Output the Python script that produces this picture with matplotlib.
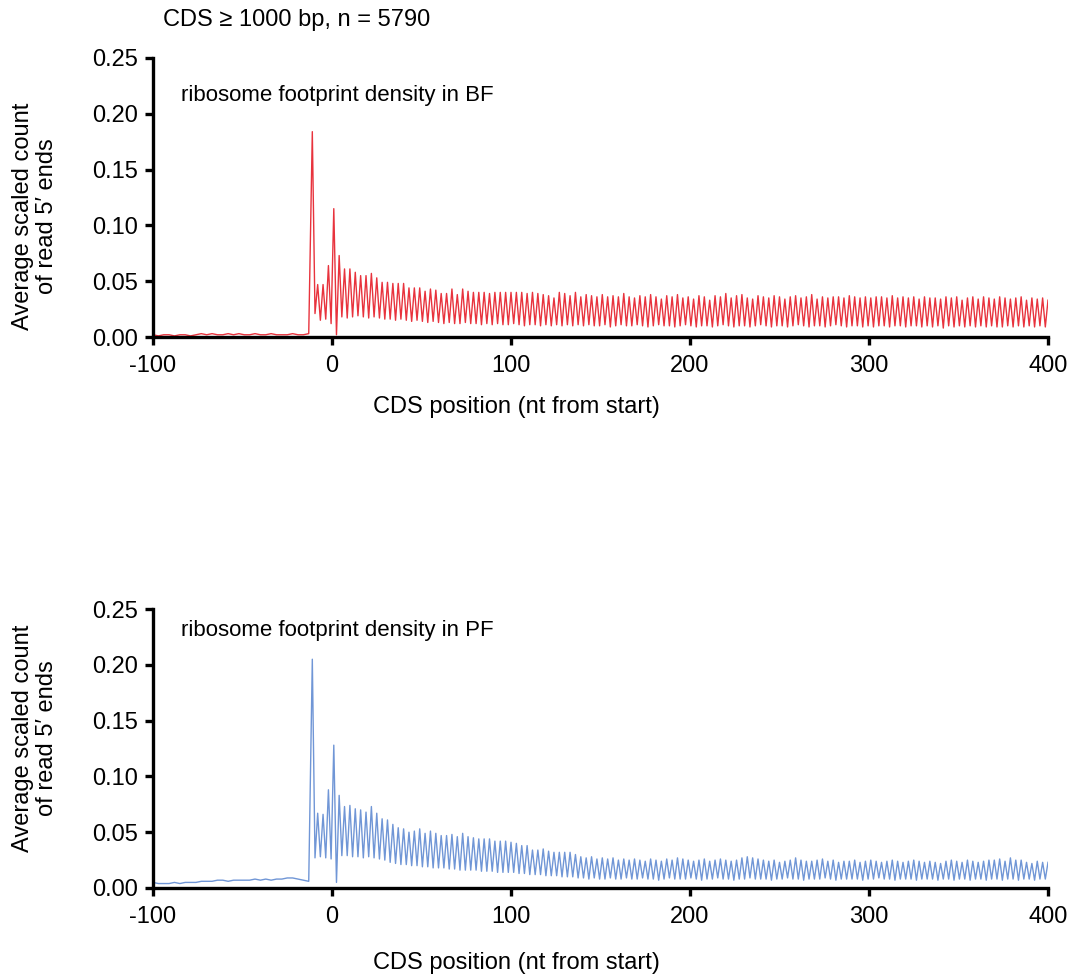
import numpy as np
import matplotlib
matplotlib.use("Agg")
import matplotlib.pyplot as plt

plt.rcParams['font.family'] = ['Liberation Sans', 'DejaVu Sans']

# ---------------- data ----------------
TITLE = "CDS \u2265 1000 bp, n = 5790"
XLABEL = "CDS position (nt from start)"
YLABEL = "Average scaled count\nof read 5\u2032 ends"
PANEL_TITLES = ["ribosome footprint density in BF", "ribosome footprint density in PF"]
X_TICKS = [-100, 0, 100, 200, 300, 400]
Y_TICKS = [0.00, 0.05, 0.10, 0.15, 0.20, 0.25]

# upstream (5' UTR) values, every 3 nt from -100 to -13
BF_UP = [0.002, 0.001, 0.002, 0.002, 0.001, 0.002, 0.002, 0.001, 0.002, 0.003,
         0.002, 0.003, 0.002, 0.002, 0.003, 0.002, 0.003, 0.002, 0.002, 0.003,
         0.002, 0.002, 0.003, 0.002, 0.002, 0.002, 0.003, 0.002, 0.002, 0.003]
PF_UP = [0.005, 0.004, 0.004, 0.004, 0.005, 0.004, 0.005, 0.005, 0.005, 0.006,
         0.006, 0.006, 0.007, 0.007, 0.006, 0.007, 0.007, 0.007, 0.007, 0.008,
         0.007, 0.008, 0.007, 0.008, 0.008, 0.009, 0.009, 0.008, 0.007, 0.006]

# codon peaks (positions -11, -8, ..., 400)
BF_PEAK = [0.184, 0.047, 0.047, 0.064, 0.115, 0.073, 0.061, 0.061, 0.058, 0.055,
           0.055, 0.057, 0.053, 0.049, 0.049, 0.048, 0.048, 0.048, 0.044, 0.044,
           0.044, 0.041, 0.043, 0.042, 0.039, 0.039, 0.043, 0.038, 0.043, 0.041,
           0.040, 0.040, 0.040, 0.039, 0.040, 0.040, 0.040, 0.040, 0.040, 0.040,
           0.039, 0.040, 0.039, 0.038, 0.037, 0.035, 0.040, 0.039, 0.037, 0.040,
           0.036, 0.038, 0.037, 0.036, 0.038, 0.036, 0.037, 0.036, 0.039, 0.036,
           0.035, 0.037, 0.036, 0.038, 0.036, 0.034, 0.037, 0.036, 0.038, 0.035,
           0.036, 0.034, 0.037, 0.036, 0.033, 0.037, 0.036, 0.039, 0.035, 0.037,
           0.038, 0.035, 0.034, 0.037, 0.036, 0.035, 0.037, 0.036, 0.034, 0.036,
           0.037, 0.035, 0.036, 0.038, 0.034, 0.036, 0.035, 0.036, 0.036, 0.035,
           0.037, 0.036, 0.035, 0.036, 0.035, 0.036, 0.036, 0.035, 0.037, 0.035,
           0.036, 0.035, 0.036, 0.034, 0.036, 0.035, 0.035, 0.034, 0.036, 0.035,
           0.036, 0.033, 0.035, 0.036, 0.034, 0.036, 0.035, 0.034, 0.036, 0.035,
           0.034, 0.035, 0.036, 0.033, 0.035, 0.034, 0.035, 0.033]
# codon troughs (positions -9.5, -6.5, ..., 398.5)
BF_TROUGH = [0.021, 0.015, 0.016, 0.012, 0.002, 0.018, 0.017, 0.018, 0.019, 0.018,
             0.017, 0.018, 0.017, 0.016, 0.016, 0.015, 0.016, 0.015, 0.014, 0.015,
             0.014, 0.013, 0.014, 0.013, 0.012, 0.013, 0.012, 0.012, 0.013, 0.012,
             0.012, 0.011, 0.012, 0.011, 0.012, 0.011, 0.011, 0.012, 0.011, 0.010,
             0.011, 0.011, 0.010, 0.011, 0.010, 0.011, 0.010, 0.011, 0.010, 0.011,
             0.010, 0.011, 0.010, 0.010, 0.011, 0.009, 0.010, 0.011, 0.010, 0.010,
             0.011, 0.010, 0.009, 0.010, 0.011, 0.010, 0.010, 0.009, 0.010, 0.011,
             0.010, 0.009, 0.010, 0.010, 0.009, 0.010, 0.011, 0.010, 0.009, 0.010,
             0.010, 0.009, 0.010, 0.011, 0.010, 0.009, 0.010, 0.010, 0.009, 0.010,
             0.011, 0.010, 0.009, 0.010, 0.010, 0.009, 0.010, 0.011, 0.010, 0.009,
             0.010, 0.010, 0.009, 0.010, 0.009, 0.010, 0.010, 0.009, 0.010, 0.010,
             0.009, 0.010, 0.010, 0.009, 0.010, 0.009, 0.010, 0.008, 0.010, 0.009,
             0.010, 0.009, 0.010, 0.009, 0.010, 0.009, 0.010, 0.009, 0.009, 0.010,
             0.009, 0.010, 0.009, 0.010, 0.009, 0.010, 0.009]

PF_PEAK = [0.205, 0.067, 0.066, 0.088, 0.128, 0.083, 0.073, 0.074, 0.071, 0.070,
           0.068, 0.073, 0.067, 0.062, 0.061, 0.057, 0.054, 0.053, 0.050, 0.051,
           0.053, 0.049, 0.051, 0.049, 0.047, 0.047, 0.048, 0.046, 0.049, 0.046,
           0.045, 0.044, 0.044, 0.044, 0.042, 0.042, 0.042, 0.041, 0.040, 0.038,
           0.038, 0.034, 0.034, 0.035, 0.033, 0.032, 0.032, 0.032, 0.032, 0.030,
           0.028, 0.027, 0.028, 0.026, 0.027, 0.026, 0.027, 0.025, 0.026, 0.025,
           0.026, 0.025, 0.024, 0.026, 0.025, 0.024, 0.026, 0.025, 0.027, 0.026,
           0.025, 0.024, 0.025, 0.026, 0.024, 0.025, 0.026, 0.025, 0.024, 0.025,
           0.027, 0.028, 0.027, 0.026, 0.025, 0.024, 0.025, 0.023, 0.024, 0.025,
           0.027, 0.025, 0.024, 0.024, 0.025, 0.026, 0.024, 0.025, 0.023, 0.024,
           0.024, 0.025, 0.023, 0.024, 0.025, 0.024, 0.023, 0.024, 0.025, 0.024,
           0.023, 0.024, 0.025, 0.024, 0.023, 0.024, 0.023, 0.022, 0.024, 0.025,
           0.024, 0.023, 0.025, 0.024, 0.023, 0.024, 0.025, 0.025, 0.026, 0.024,
           0.027, 0.025, 0.025, 0.023, 0.022, 0.024, 0.023, 0.023]
PF_TROUGH = [0.027, 0.028, 0.027, 0.026, 0.005, 0.029, 0.029, 0.028, 0.028, 0.027,
             0.028, 0.027, 0.026, 0.025, 0.023, 0.022, 0.021, 0.021, 0.020, 0.020,
             0.019, 0.019, 0.018, 0.018, 0.018, 0.017, 0.017, 0.016, 0.016, 0.016,
             0.016, 0.015, 0.015, 0.015, 0.014, 0.014, 0.014, 0.014, 0.013, 0.013,
             0.012, 0.012, 0.012, 0.011, 0.011, 0.011, 0.010, 0.010, 0.010, 0.009,
             0.009, 0.008, 0.009, 0.008, 0.008, 0.009, 0.008, 0.008, 0.009, 0.008,
             0.008, 0.009, 0.008, 0.008, 0.007, 0.008, 0.009, 0.008, 0.008, 0.008,
             0.009, 0.008, 0.007, 0.008, 0.008, 0.009, 0.008, 0.008, 0.007, 0.008,
             0.008, 0.009, 0.008, 0.008, 0.008, 0.007, 0.008, 0.008, 0.009, 0.008,
             0.008, 0.007, 0.008, 0.008, 0.008, 0.009, 0.008, 0.007, 0.008, 0.008,
             0.008, 0.008, 0.007, 0.008, 0.008, 0.009, 0.008, 0.008, 0.007, 0.008,
             0.008, 0.008, 0.007, 0.008, 0.008, 0.008, 0.007, 0.008, 0.008, 0.007,
             0.008, 0.008, 0.007, 0.008, 0.008, 0.007, 0.008, 0.008, 0.007, 0.008,
             0.008, 0.007, 0.008, 0.008, 0.007, 0.008, 0.008]

COLORS = ["#E8333D", "#7096D6"]


def build_series(up, peak, trough):
    x_up = np.arange(-100, -12, 3)
    x_pk = -11 + 3 * np.arange(len(peak))
    x_tr = -9.5 + 3 * np.arange(len(trough))
    xs = list(x_up)
    ys = list(up)
    for i in range(len(peak)):
        xs.append(x_pk[i]); ys.append(peak[i])
        if i < len(trough):
            xs.append(x_tr[i]); ys.append(trough[i])
    return np.array(xs), np.array(ys)


series = [build_series(BF_UP, BF_PEAK, BF_TROUGH),
          build_series(PF_UP, PF_PEAK, PF_TROUGH)]

W, H = 1075, 976
fig = plt.figure(figsize=(W / 100, H / 100), dpi=100)

ax_left = 153 / W
ax_w = (1048 - 153) / W
panels = [(58, 337), (609, 888)]          # pixel rows of y=0.25 and y=0
ylabel_y = [216, 738]
xlabel_y = [407, 963]
ptitle_y = [0.216, 0.231]

for i, (top, bot) in enumerate(panels):
    ax = fig.add_axes([ax_left, (H - bot) / H, ax_w, (bot - top) / H])
    x, y = series[i]
    ax.plot(x, y, color=COLORS[i], lw=1.0, clip_on=True)
    ax.set_xlim(-100, 400)
    ax.set_ylim(0, 0.25)
    ax.set_xticks(X_TICKS)
    ax.set_xticklabels([str(t) for t in X_TICKS])
    ax.set_yticks(Y_TICKS)
    ax.set_yticklabels([f"{t:.2f}" for t in Y_TICKS])
    for s in ["top", "right"]:
        ax.spines[s].set_visible(False)
    for s in ["left", "bottom"]:
        ax.spines[s].set_linewidth(2.4)
        ax.spines[s].set_capstyle('projecting')
    ax.tick_params(axis='x', direction='out', length=6, width=2.4, labelsize=17, pad=7, colors='black')
    ax.tick_params(axis='y', direction='out', length=6, width=2.4, labelsize=17, pad=5, colors='black')
    ax.text(-84.5, ptitle_y[i], PANEL_TITLES[i], fontsize=16, ha='left', va='center')
    fig.text(35 / W, 1 - ylabel_y[i] / H, YLABEL, rotation=90, ha='center', va='center',
             multialignment='center', fontsize=17, linespacing=1.15)
    fig.text(516 / W, 1 - xlabel_y[i] / H, XLABEL, ha='center', va='center', fontsize=17)

fig.text(163 / W, 1 - 20 / H, TITLE, ha='left', va='center', fontsize=17)

fig.savefig("out.png", dpi=100)
